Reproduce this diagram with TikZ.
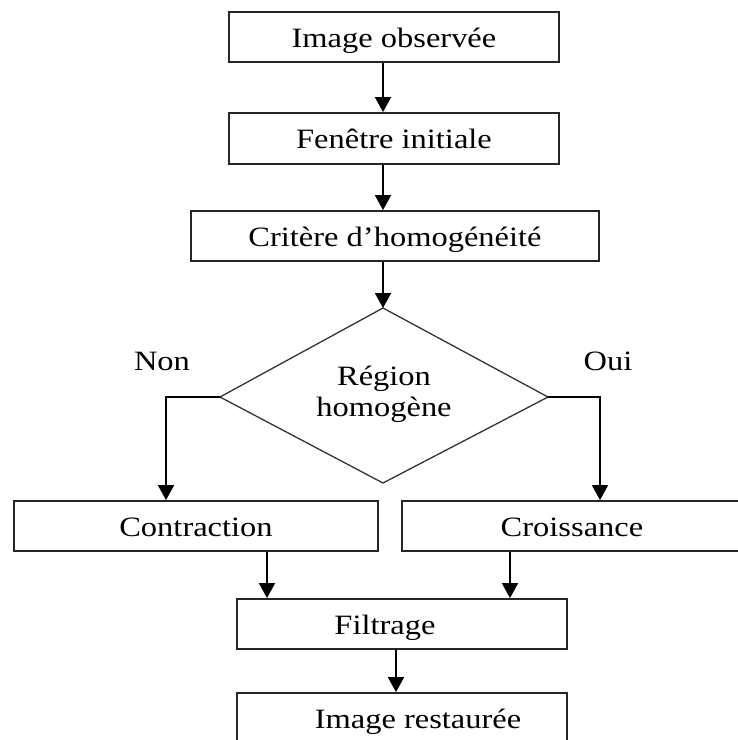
\documentclass[tikz,border=0pt]{standalone}
\usepackage{fontspec}
\setmainfont{Liberation Serif}[FakeStretch=1.16]
\usetikzlibrary{arrows.meta,calc}
\begin{document}
\begin{tikzpicture}[x=1pt,y=-1pt,
  box/.style={draw=black!85,line width=1.8pt,rectangle,inner sep=0pt,
    font=\fontsize{28}{32}\selectfont,text height=20pt,text depth=0pt},
  txt/.style={font=\fontsize{28}{32}\selectfont,inner sep=0pt,anchor=base},
  arr/.style={draw=black,line width=1.7pt,-{Triangle[width=16pt,length=15pt]}},
  dia/.style={draw=black!80,line width=1.3pt}]
\useasboundingbox (0,0) rectangle (738,740);
\clip (0,0) rectangle (738,740);

\node[box,minimum width=330pt,minimum height=50pt] (b1) at (394,37) {Image observée};
\node[box,minimum width=330pt,minimum height=51pt] (b2) at (394,138.5) {Fenêtre initiale};
\node[box,minimum width=408pt,minimum height=50pt] (b3) at (395,236) {Critère d’homogénéité};

\coordinate (dt) at (383,308);
\coordinate (dl) at (220,397);
\coordinate (dr) at (548,397);
\coordinate (db) at (383,483);
\draw[dia] (dt) -- (dr) -- (db) -- (dl) -- cycle;
\node[txt] (rg1) at (384,385) {Région};
\node[txt] (rg2) at (384,416) {homogène};

\node[txt] (non) at (162,370) {Non};
\node[txt] (oui) at (608,370) {Oui};

\node[box,minimum width=364pt,minimum height=50pt] (c) at (196,526) {Contraction};
\node[box,minimum width=340pt,minimum height=50pt] (g) at (572,526) {Croissance};
\node[box,minimum width=330pt,minimum height=50pt] (f) at (402,624) {Filtrage\hspace*{34pt}};
\node[box,minimum width=330pt,minimum height=50pt] (r) at (402,718) {\hspace*{32pt}Image restaurée};

\draw[arr] (b1.south -| dt) -- (b2.north -| dt);
\draw[arr] (b2.south -| dt) -- (b3.north -| dt);
\draw[arr] (b3.south -| dt) -- (dt);
\draw[arr] (dl) -| ([xshift=-30pt]c.north);
\draw[arr] (dr) -| ([xshift=28pt]g.north);
\draw[arr] ([xshift=71pt]c.south) -- ([xshift=71pt]c.south |- f.north);
\draw[arr] ([xshift=-62pt]g.south) -- ([xshift=-62pt]g.south |- f.north);
\draw[arr] ([xshift=-6pt]f.south) -- ([xshift=-6pt]f.south |- r.north);
\end{tikzpicture}
\end{document}
